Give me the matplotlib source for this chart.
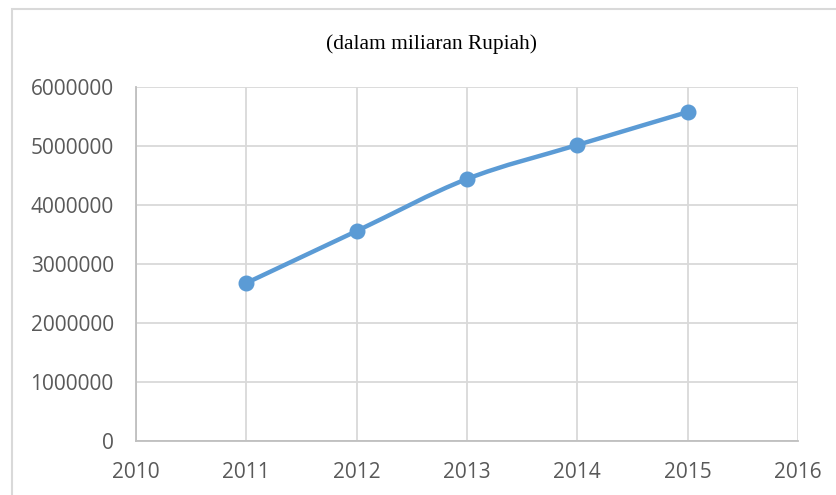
import matplotlib
matplotlib.use("Agg")
import matplotlib.pyplot as plt
from matplotlib.path import Path
from matplotlib.patches import PathPatch, Rectangle
import numpy as np

years = [2011, 2012, 2013, 2014, 2015]
values = [2678000, 3559000, 4441000, 5017000, 5576000]
title = "(dalam miliaran Rupiah)"
xticks = [2010, 2011, 2012, 2013, 2014, 2015, 2016]
yticks = [0, 1000000, 2000000, 3000000, 4000000, 5000000, 6000000]

W, H = 837, 495
fig = plt.figure(figsize=(W/100, H/100), dpi=100)
fig.patch.set_facecolor("white")

# outer chart border
fig.patches.append(Rectangle((12/W, -0.05), 1.2, 1 - 9/H + 0.05, transform=fig.transFigure,
                             fill=False, edgecolor="#d9d9d9", linewidth=1.5))

ax = fig.add_axes([136/W, 1 - 441/H, (798-136)/W, (441-87)/H])
ax.set_xlim(2010, 2016)
ax.set_ylim(0, 6000000)
ax.set_xticks(xticks)
ax.set_yticks(yticks)
ax.set_xticklabels([str(t) for t in xticks])
ax.set_yticklabels([str(t) for t in yticks])
ax.grid(True, color="#d9d9d9", linewidth=1.3)
ax.set_axisbelow(True)
for s in ["top", "right"]:
    ax.spines[s].set_visible(False)
for s in ["left", "bottom"]:
    ax.spines[s].set_color("#bfbfbf")
    ax.spines[s].set_linewidth(1.3)
ax.tick_params(length=0, labelsize=15, labelcolor="#595959")
ax.tick_params(axis="x", pad=15)
ax.tick_params(axis="y", pad=16)
for lab in ax.get_xticklabels() + ax.get_yticklabels():
    lab.set_fontfamily("Open Sans")

# smoothed line (Bezier through data points)
x = np.array(years, dtype=float)
y = np.array(values, dtype=float)
verts = [(x[0], y[0])]
codes = [Path.MOVETO]
n = len(x)
for i in range(n - 1):
    p0 = np.array([x[max(i-1, 0)], y[max(i-1, 0)]])
    p1 = np.array([x[i], y[i]])
    p2 = np.array([x[i+1], y[i+1]])
    p3 = np.array([x[min(i+2, n-1)], y[min(i+2, n-1)]])
    c1 = p1 + (p2 - p0) / 6
    c2 = p2 - (p3 - p1) / 6
    verts += [tuple(c1), tuple(c2), tuple(p2)]
    codes += [Path.CURVE4] * 3
ax.add_patch(PathPatch(Path(verts, codes), fill=False, edgecolor="#5b9bd5",
                       linewidth=3.2, capstyle="round", zorder=3))
ax.plot(years, values, linestyle="none", marker="o", markersize=10.5,
        color="#5b9bd5", zorder=4)

fig.text(432/W, 1 - 44/H, title, ha="center", va="center",
         fontfamily="Liberation Serif", fontsize=15.4, color="black")

fig.savefig("out.png", dpi=100, facecolor="white")
